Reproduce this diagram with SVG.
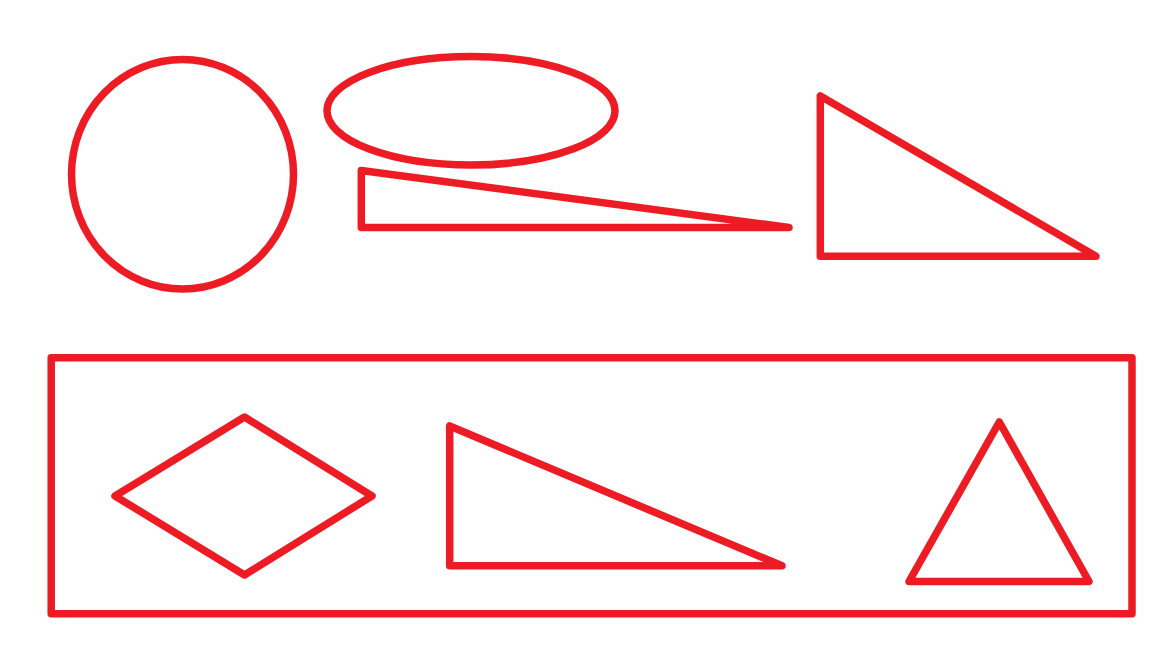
<svg xmlns="http://www.w3.org/2000/svg" width="1152" height="648" viewBox="0 0 1152 648">
<style>
.s{fill:none;stroke:#ED1C24;stroke-width:7.5;stroke-linejoin:round;stroke-linecap:round}
</style>
<rect width="1152" height="648" fill="#ffffff"/>
<g id="circle"><ellipse class="s" cx="182.5" cy="174.25" rx="111" ry="114.75"/></g>
<g id="ellipse"><ellipse class="s" cx="471" cy="110.75" rx="144" ry="54.25"/></g>
<g id="thin-triangle"><polygon class="s" points="361.3,170.5 361.3,227.5 789,227.5"/></g>
<g id="right-triangle-top"><polygon class="s" points="820.3,96 820.3,256.3 1096,256.3"/></g>
<g id="container"><rect class="s" x="51.2" y="357.8" width="1080.8" height="256"/></g>
<g id="diamond"><polygon class="s" points="115,496 244.5,417 372,496 244.5,575"/></g>
<g id="right-triangle-bottom"><polygon class="s" points="449.7,426 449.7,565.8 782,565.8"/></g>
<g id="triangle"><polygon class="s" points="999.3,422 1089,581.5 909,581.5"/></g>
<g id="connectors"></g>
</svg>
